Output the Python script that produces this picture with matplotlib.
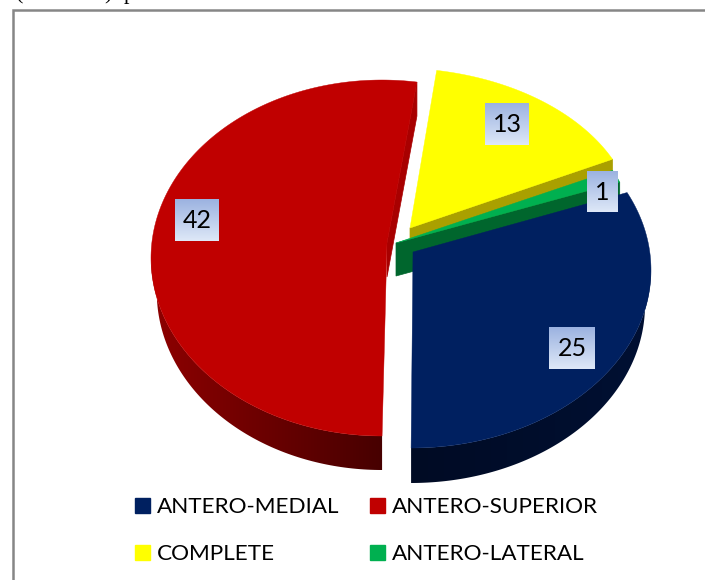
import numpy as np
import matplotlib
matplotlib.use("Agg")
import matplotlib.pyplot as plt
from matplotlib.colors import to_rgb
from matplotlib.patches import Patch, Polygon

labels = ["ANTERO-MEDIAL", "ANTERO-SUPERIOR", "COMPLETE", "ANTERO-LATERAL"]
values = [25, 42, 13, 1]

# colours: top face, side wall near, side wall far, cut face
top_cols = ["#002060", "#C00000", "#FFFF00", "#00B050"]
wall_a = ["#001033", "#8E0000", "#AAA000", "#00662D"]
wall_b = ["#000B24", "#470000", "#AAA000", "#00662D"]
face_cols = ["#000B24", "#A80000", "#AAA000", "#00662D"]

# exploded 3d look: ellipse centre, radii, apex, start angle and arc scale per slice
centers = [(411, 270), (382, 258), (395, 226), (395, 240)]
radii = [(240, 178), (231, 178), (240, 158), (240, 165)]
apexes = [(413, 252), (387, 243), (410, 228), (396, 243)]
starts = [25.8, 81.3, 80.0, 25.0]
directions = [-1, 1, -1, -1]
arc_scale = [1.042, 1.011, 0.952, 1.0]
depths = [35, 34, 33, 33]
face_end = [None, 0, -1, -1]
draw_order = [1, 2, 3, 0]
lower_shrink = 0.975

# label boxes x0, x1, y0, y1
boxes = [(549, 595, 327, 369), (175, 219, 199, 241), (485, 529, 103, 145), (587, 618, 171, 212)]

total = sum(values)


def arc(i, t, shrink=1.0):
    cx, cy = centers[i]
    a, b = radii[i]
    r = np.radians(t)
    return cx + a * shrink * np.cos(r), cy - b * np.sin(r)


fig = plt.figure(figsize=(7.05, 5.8), dpi=100)
ax = fig.add_axes([0, 0, 1, 1])
ax.set_axis_off()

for i in draw_order:
    span = values[i] / total * 360 * arc_scale[i]
    ts = starts[i] + directions[i] * np.linspace(0, span, 200)
    xs, ys = arc(i, ts)
    px, py = apexes[i]
    d = depths[i]

    # cut face that looks to the viewer
    if face_end[i] is not None:
        fx, fy = xs[face_end[i]], ys[face_end[i]]
        ax.fill([px, fx, fx, px], [py, fy, fy + d, py + d], color=face_cols[i], lw=0.5)

    # outer wall, only where the rim faces down, gradient clipped to it
    front = ts[np.sin(np.radians(ts)) < 0.0]
    if len(front) > 1:
        up_x, up_y = arc(i, front)
        lo_x, lo_y = arc(i, front, lower_shrink)
        verts = np.c_[np.r_[up_x, lo_x[::-1]], np.r_[up_y, lo_y[::-1] + d]]
        wall = Polygon(verts, closed=True, transform=ax.transData, facecolor="none", edgecolor="none")
        ax.add_patch(wall)
        f = np.linspace(0, 1, 128)[None, :, None]
        img = np.array(to_rgb(wall_a[i])) * (1 - f) + np.array(to_rgb(wall_b[i])) * f
        im = ax.imshow(img, extent=(up_x[0], up_x[-1], verts[:, 1].max(), verts[:, 1].min()),
                       aspect="auto", interpolation="bilinear")
        im.set_clip_path(wall)

    # top
    ax.fill(np.r_[px, xs], np.r_[py, ys], color=top_cols[i], lw=0.3)

# value labels on a small gradient box
grad = np.linspace(0, 1, 64)[:, None, None]
box_img = np.array([0.61, 0.70, 0.88]) * (1 - grad) + np.array([0.87, 0.91, 0.97]) * grad
for v, (x0, x1, y0, y1) in zip(values, boxes):
    ax.imshow(box_img, extent=(x0, x1, y1, y0), aspect="auto", zorder=5)
    ax.text((x0 + x1) / 2, (y0 + y1) / 2 + 0.5, str(v), ha="center", va="center",
            family="Lato", fontsize=18, color="black", zorder=6)

# frame of the chart, top and left only are in the crop
ax.plot([13, 13, 705], [580, 10, 10], color="#868686", lw=1.8, solid_joinstyle="miter")

# bottom of the line of text above the chart
for x, s in [(16, "("), (104, ")"), (124, "p")]:
    ax.text(x, -1, s, family="Liberation Serif", fontsize=16, va="baseline", color="black")

order = [0, 2, 1, 3]
handles = [Patch(color=top_cols[i], label=labels[i]) for i in order]
ax.legend(handles=handles, ncol=2, loc="lower left", bbox_to_anchor=(135 / 705, 1 - 564 / 580),
          frameon=False, prop={"family": "Lato", "size": 16.2}, handlelength=0.66, handleheight=0.66,
          handletextpad=0.31, columnspacing=1.35, labelspacing=1.2, borderpad=0, borderaxespad=0)

ax.set_xlim(0, 705)
ax.set_ylim(580, 0)

plt.savefig("out.png", dpi=100)
